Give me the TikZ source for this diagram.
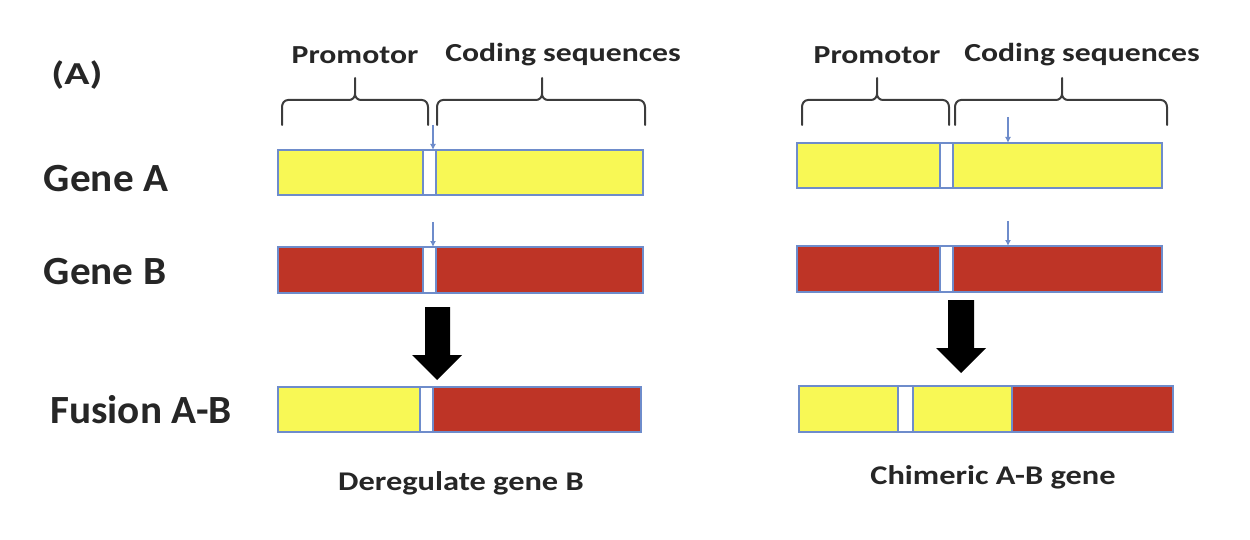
\documentclass[tikz,border=0pt]{standalone}
\usepackage{fontspec}
\setmainfont{Carlito}
\usetikzlibrary{arrows.meta}
\definecolor{gy}{HTML}{F8F855}
\definecolor{gr}{HTML}{BE3426}
\definecolor{bb}{HTML}{6E8CCB}
\definecolor{tx}{HTML}{262626}
\begin{document}
\begin{tikzpicture}[x=1pt,y=-1pt,
  seg/.style={draw=bb,line width=1.2pt,anchor=north west,inner sep=0pt,outer sep=0pt},
  lbl/.style={text=tx,font=\bfseries\fontsize{40}{42}\selectfont,inner sep=0pt,xscale=1.03},
  hdr/.style={text=tx,font=\bfseries\fontsize{26}{28}\selectfont,inner sep=0pt,xscale=1.22},
  captext/.style={text=tx,font=\bfseries\fontsize{27}{29}\selectfont,inner sep=0pt,xscale=1.2},
  brc/.style={draw=tx!90,line width=2pt,line cap=round,line join=round},
  bluearr/.style={draw=bb,line width=1.4pt,-{Latex[length=6pt,width=6pt]}},
  blk/.style={fill=black,draw=none}]
\useasboundingbox (0,0) rectangle (1250,540);
% labels
\node[lbl,font=\bfseries\fontsize{32}{34}\selectfont,xscale=1.26] (tA) at (77,75) {(A)};
\node[lbl] (lgA) at (106,179) {Gene A};
\node[lbl] (lgB) at (105,272) {Gene B};
\node[lbl] (lfu) at (141,410) {Fusion A-B};
% headers
\node[hdr] (p1) at (355,55) {Promotor};
\node[hdr] (c1) at (563,55) {Coding sequences};
\node[hdr] (p2) at (877,55) {Promotor};
\node[hdr] (c2) at (1082,55) {Coding sequences};
\node[captext] (cap1) at (461,483) {Deregulate gene B};
\node[captext] (cap2) at (993,477) {Chimeric A-B gene};
% braces
\newcommand\mybrace[3]{%
 \draw[brc] (#1,125) -- (#1,107) to[out=90,in=180] (#1+6,100) -- (#2-6,100) to[out=0,in=-90] (#2,94) -- (#2,78)
   (#2,94) to[out=-90,in=180] (#2+6,100) -- (#3-6,100) to[out=0,in=90] (#3,107) -- (#3,125);}
\mybrace{282}{355}{428}
\mybrace{437}{542}{645}
\mybrace{802}{877}{949}
\mybrace{955}{1062}{1167}
% left gene A
\node[seg,fill=gy,minimum width=145pt,minimum height=45pt] (la1) at (278,150) {};
\node[seg,fill=white,minimum width=13pt,minimum height=45pt] (la2) at (423,150) {};
\node[seg,fill=gy,minimum width=207pt,minimum height=45pt] (la3) at (436,150) {};
% left gene B
\node[seg,fill=gr,minimum width=145pt,minimum height=46pt] (lb1) at (278,247) {};
\node[seg,fill=white,minimum width=13pt,minimum height=46pt] (lb2) at (423,247) {};
\node[seg,fill=gr,minimum width=207pt,minimum height=46pt] (lb3) at (436,247) {};
% left fusion
\node[seg,fill=gy,minimum width=142pt,minimum height=45pt] (lf1) at (278,387) {};
\node[seg,fill=white,minimum width=13pt,minimum height=45pt] (lf2) at (420,387) {};
\node[seg,fill=gr,minimum width=208pt,minimum height=45pt] (lf3) at (433,387) {};
% right gene A
\node[seg,fill=gy,minimum width=143pt,minimum height=45pt] (ra1) at (797,143) {};
\node[seg,fill=white,minimum width=13pt,minimum height=45pt] (ra2) at (940,143) {};
\node[seg,fill=gy,minimum width=209pt,minimum height=45pt] (ra3) at (953,143) {};
% right gene B
\node[seg,fill=gr,minimum width=143pt,minimum height=46pt] (rb1) at (797,246) {};
\node[seg,fill=white,minimum width=13pt,minimum height=46pt] (rb2) at (940,246) {};
\node[seg,fill=gr,minimum width=209pt,minimum height=46pt] (rb3) at (953,246) {};
% right fusion
\node[seg,fill=gy,minimum width=99pt,minimum height=46pt] (rf1) at (799,386) {};
\node[seg,fill=white,minimum width=15pt,minimum height=46pt] (rf2) at (898,386) {};
\node[seg,fill=gy,minimum width=99pt,minimum height=46pt] (rf3) at (913,386) {};
\node[seg,fill=gr,minimum width=161pt,minimum height=46pt] (rf4) at (1012,386) {};
% blue breakpoint arrows
\coordinate (ba1) at (433,125);
\coordinate (ba2) at (433,222);
\coordinate (ba3) at (1008,117);
\coordinate (ba4) at (1008,221);
\draw[bluearr] (ba1) -- (la2.north -| ba1);
\draw[bluearr] (ba2) -- (lb2.north -| ba2);
\draw[bluearr] (ba3) -- (ra3.north -| ba3);
\draw[bluearr] (ba4) -- (rb3.north -| ba4);
% black block arrows
\fill[blk] (425,307) -- (450,307) -- (450,355) -- (462,355) -- (437,380) -- (412,355) -- (425,355) -- cycle;
\fill[blk] (948,300) -- (974,300) -- (974,348) -- (986,348) -- (961,373) -- (936,348) -- (948,348) -- cycle;
\end{tikzpicture}
\end{document}
